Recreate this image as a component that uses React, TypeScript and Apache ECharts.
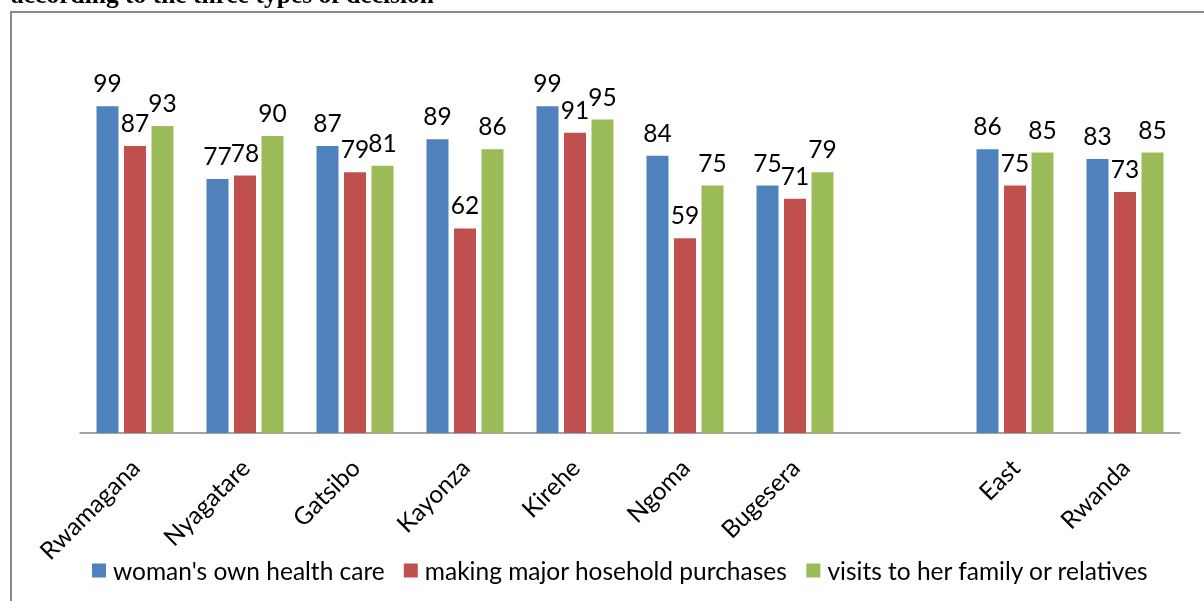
import React, { useEffect, useRef } from "react";
import * as echarts from "echarts";

const categories = ["Rwamagana", "Nyagatare", "Gatsibo", "Kayonza", "Kirehe", "Ngoma", "Bugesera", "", "East", "Rwanda"];
const healthCare = [99, 77, 87, 89, 99, 84, 75, null, 86, 83];
const purchases = [87, 78, 79, 62, 91, 59, 71, null, 75, 73];
const visits = [93, 90, 81, 86, 95, 75, 79, null, 85, 85];
const seriesNames = ["woman's own health care", "making major hosehold purchases", "visits to her family or relatives"];
const titleText = "according to the three types of decision";

const FONT = "Lato";

export default function App() {
  const ref = useRef<HTMLDivElement>(null);
  useEffect(() => {
    const chart = echarts.init(ref.current!, null, { renderer: "svg" });
    const colors = ["#4F81BD", "#C0504D", "#9BBB59"];
    const datas = [healthCare, purchases, visits];
    chart.setOption({
      animation: false,
      color: colors,
      graphic: [
        {
          type: "text",
          left: 11,
          top: -19,
          style: { text: titleText, font: "bold 25.5px 'Liberation Serif'", fill: "#000" },
        },
        {
          type: "rect",
          shape: { x: 11, y: 12, width: 1220, height: 620 },
          style: { fill: "none", stroke: "#898989", lineWidth: 2 },
          silent: true,
        },
      ],
      grid: { left: 80, right: 24, top: 37, bottom: 168 },
      legend: {
        left: 87,
        top: 553,
        itemWidth: 14,
        itemHeight: 14,
        itemGap: 19,
        icon: "rect",
        textStyle: { fontFamily: FONT, fontSize: 24.5, color: "#000", padding: [0, 0, 0, 2] },
        data: seriesNames,
      },
      xAxis: {
        type: "category",
        data: categories,
        axisLine: { lineStyle: { color: "#868686", width: 1.5 } },
        axisTick: { length: 7, lineStyle: { color: "#868686", width: 1.5 } },
        axisLabel: { rotate: 45, margin: 30, interval: 0, fontFamily: FONT, fontSize: 24.5, color: "#000" },
      },
      yAxis: { type: "value", min: 0, max: 120, show: false, splitLine: { show: false } },
      series: datas.map((d, i) => ({
        name: seriesNames[i],
        type: "bar",
        data: d,
        barWidth: 22,
        barGap: "25%",
        itemStyle: { color: colors[i] },
        label: {
          show: true,
          position: "top",
          distance: 11,
          fontFamily: FONT,
          fontSize: 24.5,
          color: "#000",
        },
      })),
    });
    return () => chart.dispose();
  }, []);
  return <div ref={ref} style={{ position: "fixed", left: 0, top: 0, width: 1204, height: 601 }} />;
}
